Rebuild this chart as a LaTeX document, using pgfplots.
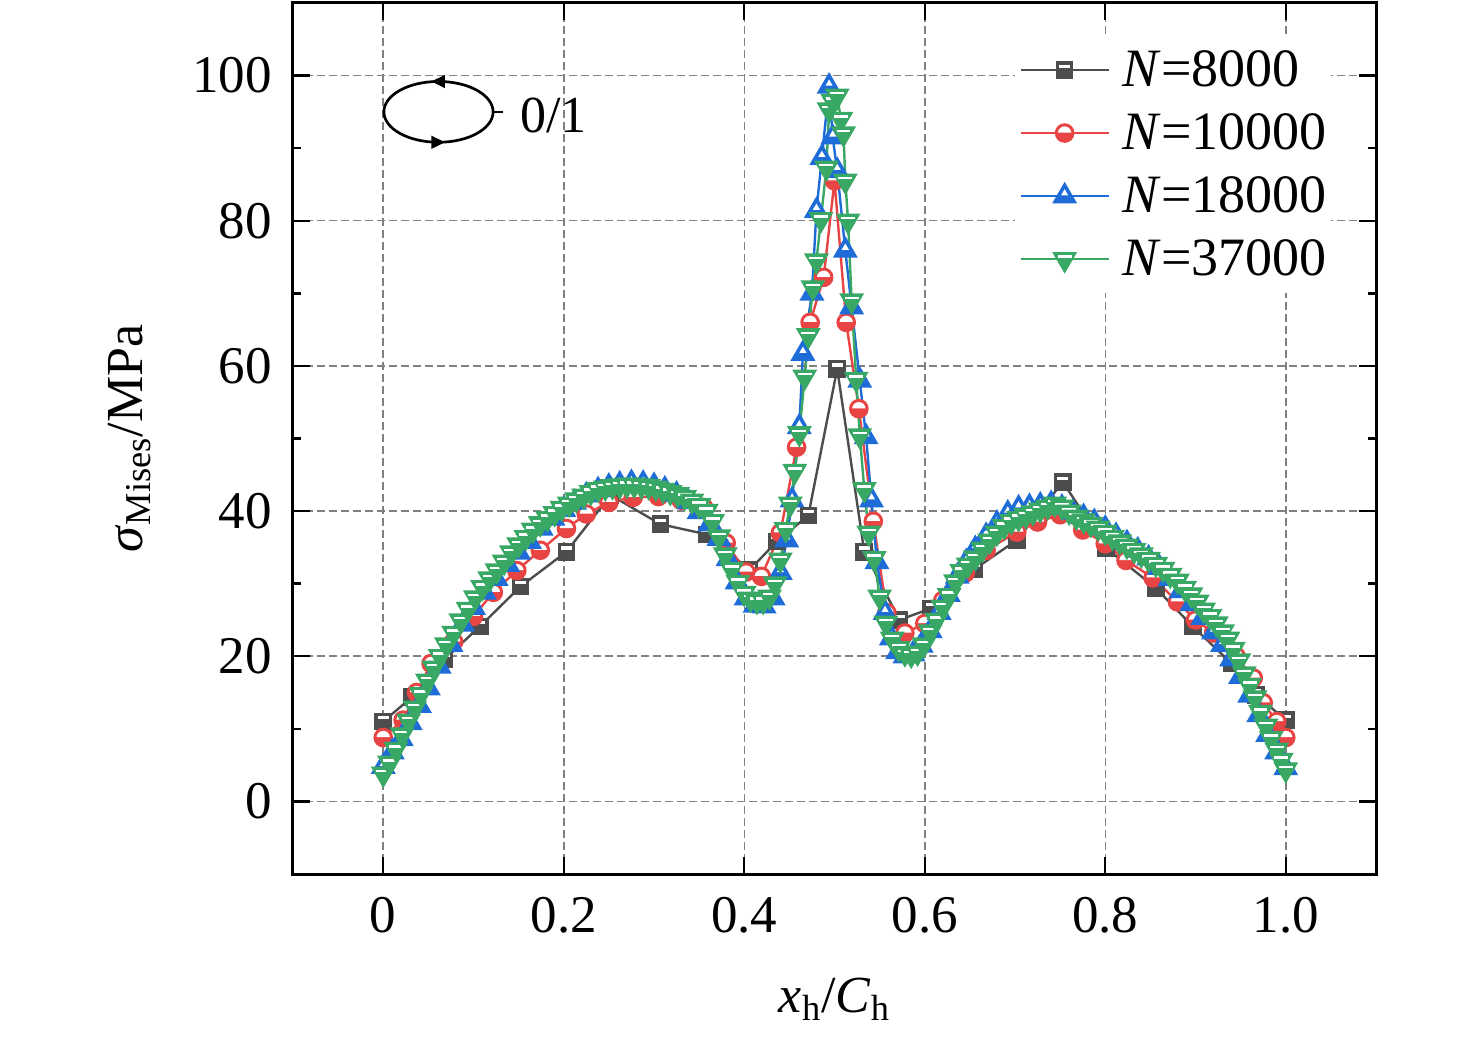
\documentclass[border=0pt]{standalone}
\usepackage{pgfplots}
\pgfplotsset{compat=1.18}
\usepackage{fontspec}
\setmainfont{Liberation Serif}
\definecolor{cblk}{RGB}{77,77,77}
\definecolor{cred}{RGB}{232,68,68}
\definecolor{cblu}{RGB}{30,108,216}
\definecolor{cgrn}{RGB}{56,168,100}
\newcommand{\fs}{\fontsize{26.5}{31}\selectfont}
\newcommand{\fl}{\fontsize{27}{32}\selectfont}
% filled marks with a white bar in the upper part
\pgfdeclareplotmark{hsquare}{%
  \pgfpathrectangle{\pgfqpoint{-\pgfplotmarksize}{-\pgfplotmarksize}}{\pgfqpoint{2\pgfplotmarksize}{2\pgfplotmarksize}}%
  \pgfusepath{fill,stroke}%
  \begin{pgfscope}\pgfsetfillcolor{white}%
  \pgfpathrectangle{\pgfqpoint{-0.72\pgfplotmarksize}{0.28\pgfplotmarksize}}{\pgfqpoint{1.44\pgfplotmarksize}{0.42\pgfplotmarksize}}%
  \pgfusepath{fill}\end{pgfscope}}
\pgfdeclareplotmark{hcircle}{%
  \pgfpathcircle{\pgfpointorigin}{\pgfplotmarksize}\pgfusepath{fill,stroke}%
  \begin{pgfscope}\pgfsetfillcolor{white}%
  \pgfpathmoveto{\pgfqpoint{-0.78\pgfplotmarksize}{0.05\pgfplotmarksize}}%
  \pgfpatharc{176}{4}{0.78\pgfplotmarksize}\pgfpathclose\pgfusepath{fill}\end{pgfscope}}
\pgfdeclareplotmark{htriup}{%
  \pgfpathmoveto{\pgfqpoint{0pt}{\pgfplotmarksize}}%
  \pgfpathlineto{\pgfqpoint{-0.866025\pgfplotmarksize}{-0.5\pgfplotmarksize}}%
  \pgfpathlineto{\pgfqpoint{0.866025\pgfplotmarksize}{-0.5\pgfplotmarksize}}%
  \pgfpathclose\pgfusepath{fill,stroke}%
  \begin{pgfscope}\pgfsetfillcolor{white}%
  \pgfpathmoveto{\pgfqpoint{0pt}{0.58\pgfplotmarksize}}%
  \pgfpathlineto{\pgfqpoint{-0.30\pgfplotmarksize}{0.06\pgfplotmarksize}}%
  \pgfpathlineto{\pgfqpoint{0.30\pgfplotmarksize}{0.06\pgfplotmarksize}}%
  \pgfpathclose\pgfusepath{fill}\end{pgfscope}}
\pgfdeclareplotmark{htridown}{%
  \pgfpathmoveto{\pgfqpoint{0pt}{-\pgfplotmarksize}}%
  \pgfpathlineto{\pgfqpoint{-0.866025\pgfplotmarksize}{0.5\pgfplotmarksize}}%
  \pgfpathlineto{\pgfqpoint{0.866025\pgfplotmarksize}{0.5\pgfplotmarksize}}%
  \pgfpathclose\pgfusepath{fill,stroke}%
  \begin{pgfscope}\pgfsetfillcolor{white}%
  \pgfpathrectangle{\pgfqpoint{-0.58\pgfplotmarksize}{0.12\pgfplotmarksize}}{\pgfqpoint{1.16\pgfplotmarksize}{0.2\pgfplotmarksize}}%
  \pgfusepath{fill}\end{pgfscope}}
\begin{document}
\begin{tikzpicture}
\begin{axis}[
  scale only axis, width=541.5pt, height=435.5pt,
  xmin=-0.1, xmax=1.1, ymin=-10, ymax=110,
  xtick={0,0.2,0.4,0.6,0.8,1.0},
  xticklabels={0,0.2,0.4,0.6,0.8,1.0},
  ytick={0,20,40,60,80,100},
  minor y tick num=1,
  tick align=inside, tick pos=both,
  major tick length=8.3pt, minor tick length=3.8pt,
  every tick/.style={black, line width=1.2pt},
  axis line style={line width=1.5pt},
  grid=major,
  major grid style={dash pattern=on 4pt off 2pt, line width=0.75pt, color=gray},
  /pgf/number format/assume math mode=true,
  tick label style={font=\fs},
  xticklabel style={inner sep=0pt, yshift=-11.5pt},
  yticklabel style={inner sep=0pt, xshift=-10.5pt},
  label style={font=\fontsize{26}{31}\selectfont},
  xlabel={\textit{x}\textsubscript{h}/\textit{C}\textsubscript{h}},
  xlabel style={at={(rel axis cs:0.5,0)}, anchor=base, yshift=-69pt, inner sep=0pt},
  ylabel={\textit{σ}\textsubscript{Mises}/MPa},
  ylabel style={at={(rel axis cs:0,0.5)}, anchor=base, yshift=75pt, inner sep=0pt},
  legend style={at={(rel axis cs:0.6667,0.962)}, anchor=north west, draw=none, fill=white,
    inner xsep=2pt, inner ysep=7pt, font=\fl, row sep=12.1pt, column sep=6.5pt,
    nodes={inner sep=0pt}},
  legend cell align=left,
  legend image code/.code={\draw[mark repeat=2,mark phase=2,#1] plot coordinates {(0pt,0pt) (22pt,0pt) (44pt,0pt)};},
  every axis plot/.append style={line width=1.2pt, mark options={solid, line width=1.2pt}},
]
\addplot[color=cblk, mark=hsquare, mark size=3.8pt] coordinates {
(0.000,11.0) (0.032,14.4) (0.068,19.6) (0.107,24.1) (0.152,29.6) (0.203,34.4) (0.252,42.2)
(0.307,38.2) (0.358,36.8) (0.406,31.9) (0.436,35.8) (0.471,39.4) (0.503,59.6) (0.533,34.4)
(0.572,25.0) (0.607,26.6) (0.655,32.0) (0.702,36.0) (0.753,44.0) (0.801,34.9) (0.856,29.4)
(0.897,24.1) (0.940,19.0) (0.967,14.7) (1.000,11.2)};
\addlegendentry{\textit{N}=8000}
\addplot[color=cred, mark=hcircle, mark size=4.3pt] coordinates {
(0.000,8.8) (0.022,11.2) (0.037,15.0) (0.053,19.0) (0.078,22.0) (0.100,25.5) (0.122,28.8)
(0.148,31.8) (0.174,34.6) (0.203,37.6) (0.225,39.6) (0.250,41.2) (0.277,41.9) (0.305,42.0)
(0.330,41.5) (0.355,40.5) (0.380,35.6) (0.402,31.6) (0.419,31.0) (0.440,37.0) (0.458,48.8)
(0.473,66.0) (0.488,72.2) (0.500,85.5) (0.513,66.0) (0.527,54.1) (0.543,38.6) (0.558,26.0)
(0.578,23.2) (0.600,24.5) (0.620,27.7) (0.645,31.5) (0.668,34.6) (0.702,37.1) (0.725,38.5)
(0.750,39.5) (0.775,37.4) (0.800,35.5) (0.823,33.2) (0.853,30.8) (0.880,27.5) (0.900,25.0)
(0.920,23.2) (0.945,20.0) (0.964,17.0) (0.975,13.6) (0.990,11.0) (1.000,8.8)};
\addlegendentry{\textit{N}=10000}
\addplot[color=cblu, mark=htriup, mark size=6pt] coordinates {
(0.000,4.8) (0.010,6.8) (0.020,8.6) (0.030,10.8) (0.040,13.2) (0.050,15.6) (0.062,18.6)
(0.075,21.6) (0.088,24.4) (0.100,26.7) (0.112,28.8) (0.125,30.7) (0.138,32.6) (0.150,34.3)
(0.162,35.8) (0.175,37.6) (0.188,39.0) (0.200,40.2) (0.212,41.2) (0.225,42.2) (0.238,42.9)
(0.250,43.4) (0.262,43.7) (0.275,43.9) (0.288,43.8) (0.300,43.5) (0.312,43.0) (0.325,42.3)
(0.338,41.3) (0.350,39.9) (0.362,38.2) (0.372,36.2) (0.382,33.4) (0.392,30.2) (0.402,28.0)
(0.412,27.0) (0.422,26.9) (0.432,28.0) (0.440,31.5) (0.447,36.0) (0.453,41.5) (0.461,51.6)
(0.465,61.7) (0.475,70.0) (0.480,81.4) (0.486,88.7) (0.494,98.5) (0.498,91.5) (0.503,86.9)
(0.512,75.9) (0.519,68.1) (0.528,58.0) (0.535,50.2) (0.541,41.5) (0.547,33.0) (0.556,26.0)
(0.563,22.5) (0.570,20.6) (0.578,20.0) (0.587,20.3) (0.596,21.5) (0.606,23.5) (0.616,26.0)
(0.626,28.5) (0.636,31.0) (0.646,33.0) (0.656,34.8) (0.668,36.6) (0.680,38.3) (0.692,39.7)
(0.704,40.4) (0.716,40.6) (0.728,40.8) (0.740,41.0) (0.752,40.5) (0.764,39.8) (0.776,39.2)
(0.788,38.5) (0.800,37.6) (0.812,36.6) (0.824,35.6) (0.836,34.6) (0.848,33.5) (0.860,32.2)
(0.872,30.7) (0.884,29.0) (0.896,27.2) (0.908,25.3) (0.920,23.3) (0.930,21.6) (0.940,19.6)
(0.950,17.2) (0.960,14.6) (0.970,11.9) (0.980,9.2) (0.990,6.8) (1.000,4.6)};
\addlegendentry{\textit{N}=18000}
\addplot[color=cgrn, mark=htridown, mark size=6pt] coordinates {
(0.000,3.8) (0.007,5.3) (0.014,7.2) (0.021,9.2) (0.028,11.1) (0.035,12.9) (0.042,14.8)
(0.049,16.6) (0.056,18.4) (0.063,20.0) (0.070,21.6) (0.078,23.2) (0.086,24.9) (0.094,26.5)
(0.102,28.1) (0.110,29.5) (0.118,30.7) (0.126,31.8) (0.134,33.0) (0.142,34.3) (0.150,35.4)
(0.158,36.4) (0.166,37.4) (0.174,38.3) (0.182,39.0) (0.190,39.7) (0.198,40.4) (0.206,41.0)
(0.214,41.6) (0.222,42.1) (0.230,42.6) (0.238,43.0) (0.246,43.2) (0.254,43.4) (0.262,43.5)
(0.270,43.6) (0.278,43.6) (0.286,43.5) (0.294,43.4) (0.302,43.2) (0.310,42.9) (0.318,42.6)
(0.326,42.3) (0.334,41.9) (0.342,41.4) (0.350,40.8) (0.358,40.0) (0.365,38.6) (0.372,36.5)
(0.379,34.0) (0.386,32.0) (0.393,30.2) (0.400,28.7) (0.407,27.9) (0.414,27.6) (0.421,27.6)
(0.428,28.2) (0.434,30.0) (0.440,33.3) (0.446,37.5) (0.451,41.0) (0.456,45.5) (0.461,50.7)
(0.467,58.5) (0.471,64.2) (0.476,70.8) (0.480,74.5) (0.485,80.2) (0.491,87.3) (0.494,95.3)
(0.498,96.5) (0.503,97.2) (0.507,94.0) (0.510,92.0) (0.512,85.5) (0.515,80.0) (0.519,69.0)
(0.524,58.2) (0.528,50.4) (0.533,43.0) (0.538,37.0) (0.544,33.5) (0.550,28.2) (0.557,24.6)
(0.564,22.4) (0.571,21.1) (0.578,20.4) (0.585,20.2) (0.592,20.5) (0.599,21.6) (0.606,23.4)
(0.613,25.0) (0.620,26.8) (0.627,28.4) (0.634,30.3) (0.641,31.7) (0.648,32.6) (0.656,33.6)
(0.664,34.8) (0.672,35.9) (0.680,37.0) (0.688,37.9) (0.696,38.6) (0.704,39.0) (0.712,39.4)
(0.720,39.8) (0.728,40.2) (0.736,40.6) (0.744,41.0) (0.752,40.6) (0.760,39.9) (0.768,39.2)
(0.776,38.7) (0.784,38.2) (0.792,37.7) (0.800,37.1) (0.808,36.4) (0.816,35.8) (0.824,35.2)
(0.832,34.6) (0.840,34.0) (0.848,33.4) (0.856,32.7) (0.864,32.0) (0.872,31.2) (0.880,30.4)
(0.888,29.4) (0.895,28.5) (0.902,27.5) (0.909,26.4) (0.916,25.5) (0.923,24.5) (0.930,23.4)
(0.936,22.4) (0.942,21.0) (0.948,19.4) (0.954,17.6) (0.960,16.0) (0.966,14.3) (0.972,12.3)
(0.978,10.4) (0.984,8.7) (0.990,7.1) (0.995,5.7) (1.000,4.4)};
\addlegendentry{\textit{N}=37000}
% rotation symbol
\coordinate (E) at (axis cs:0.0612,95);
\draw[line width=1.35pt] (E) ellipse [x radius=27.3pt, y radius=15.2pt];
\fill ([shift={(-3.5pt,15.2pt)}]E) -- ([shift={(3.2pt,18.5pt)}]E) -- ([shift={(3.2pt,11.9pt)}]E) -- cycle;
\fill ([shift={(3.2pt,-15.2pt)}]E) -- ([shift={(-3.5pt,-11.9pt)}]E) -- ([shift={(-3.5pt,-18.5pt)}]E) -- cycle;
\draw[line width=1.35pt] ([shift={(27.3pt,0pt)}]E) -- ([shift={(32.2pt,0pt)}]E);
\node[anchor=west, inner sep=0pt, font=\fontsize{26}{31}\selectfont] at ([shift={(40.8pt,-1.8pt)}]E) {0/1};
\end{axis}
\pgfresetboundingbox
\path ([shift={(-146.5pt,-84.5pt)}]current axis.south west) rectangle ([shift={(50pt,1.5pt)}]current axis.north east);
\end{tikzpicture}
\end{document}
